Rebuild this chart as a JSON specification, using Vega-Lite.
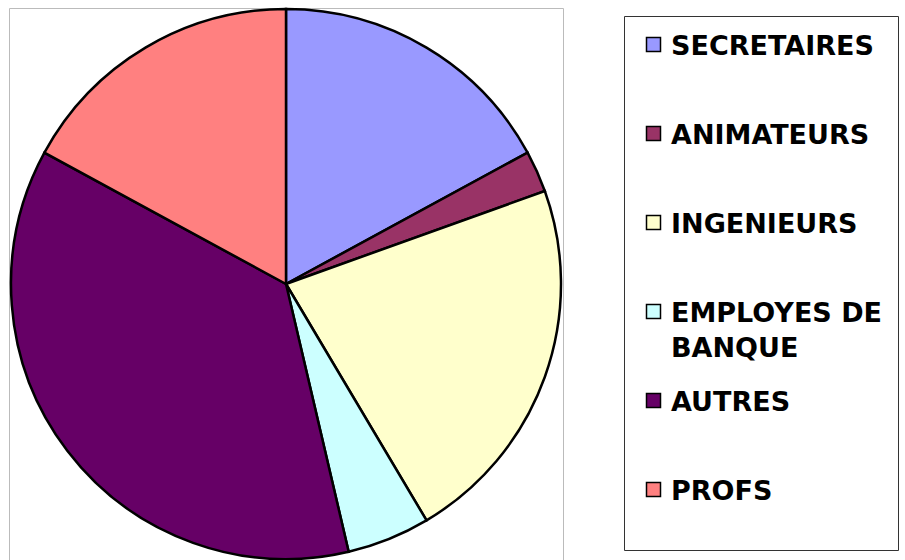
{
  "$schema": "https://vega.github.io/schema/vega-lite/v6.json",
  "autosize": {"type": "none"},
  "padding": {"left": 9, "top": 8, "right": 342, "bottom": 0},
  "width": 554,
  "height": 552,
  "background": "white",
  "view": {"stroke": "#bbbbbb", "strokeWidth": 1},
  "data": {"values": [
    {"metier": "SECRETAIRES", "n": 7, "ord": 1},
    {"metier": "ANIMATEURS", "n": 1, "ord": 2},
    {"metier": "INGENIEURS", "n": 9, "ord": 3},
    {"metier": "EMPLOYES DE BANQUE", "n": 2, "ord": 4},
    {"metier": "AUTRES", "n": 15, "ord": 5},
    {"metier": "PROFS", "n": 7, "ord": 6}
  ]},
  "mark": {"type": "arc", "outerRadius": 275, "stroke": "black", "strokeWidth": 2.5},
  "encoding": {
    "theta": {"field": "n", "type": "quantitative", "stack": true},
    "order": {"field": "ord"},
    "color": {
      "field": "metier",
      "type": "nominal",
      "scale": {
        "domain": ["SECRETAIRES", "ANIMATEURS", "INGENIEURS", "EMPLOYES DE BANQUE", "AUTRES", "PROFS"],
        "range": ["#9999FF", "#993366", "#FFFFCC", "#CCFFFF", "#660066", "#FF8080"]
      },
      "legend": {
        "orient": "none",
        "legendX": 615,
        "legendY": 8,
        "title": "\u00a0\u00a0\u00a0\u00a0\u00a0\u00a0\u00a0\u00a0\u00a0\u00a0\u00a0\u00a0\u00a0\u00a0\u00a0\u00a0\u00a0\u00a0\u00a0\u00a0\u00a0\u00a0\u00a0\u00a0\u00a0\u00a0\u00a0\u00a0\u00a0\u00a0\u00a0\u00a0\u00a0\u00a0\u00a0\u00a0\u00a0\u00a0\u00a0\u00a0\u00a0\u00a0\u00a0\u00a0\u00a0\u00a0\u00a0\u00a0\u00a0\u00a0\u00a0\u00a0\u00a0\u00a0\u00a0\u00a0\u00a0\u00a0\u00a0\u00a0\u00a0\u00a0\u00a0\u00a0\u00a0\u00a0\u00a0\u00a0\u00a0\u00a0\u00a0\u00a0\u00a0\u00a0\u00a0\u00a0\u00a0\u00a0\u00a0\u00a0",
        "titleOrient": "bottom",
        "titleFont": "DejaVu Sans",
        "titleFontSize": 20,
        "titlePadding": 10,
        "titleLimit": 800,
        "titleColor": "transparent",
        "direction": "vertical",
        "symbolType": "square",
        "symbolSize": 196,
        "symbolStrokeColor": "black",
        "symbolStrokeWidth": 1.5,
        "symbolOpacity": 1,
        "labelFont": "DejaVu Sans",
        "labelFontWeight": "bold",
        "labelFontSize": 27,
        "labelColor": "black",
        "labelLimit": 400,
        "labelOffset": 4,
        "symbolOffset": 1,
        "labelBaseline": "alphabetic",
        "labelExpr": "datum.label == 'EMPLOYES DE BANQUE' ? ['EMPLOYES DE', 'BANQUE'] : datum.label",
        "rowPadding": 25,
        "gridAlign": "all",
        "padding": 15,
        "strokeColor": "#333333"
      }
    }
  },
  "config": {
    "view": {"stroke": "#bbbbbb", "strokeWidth": 1},
    "style": {"guide-label": {"dy": 10, "lineHeight": 35}}
  }
}
